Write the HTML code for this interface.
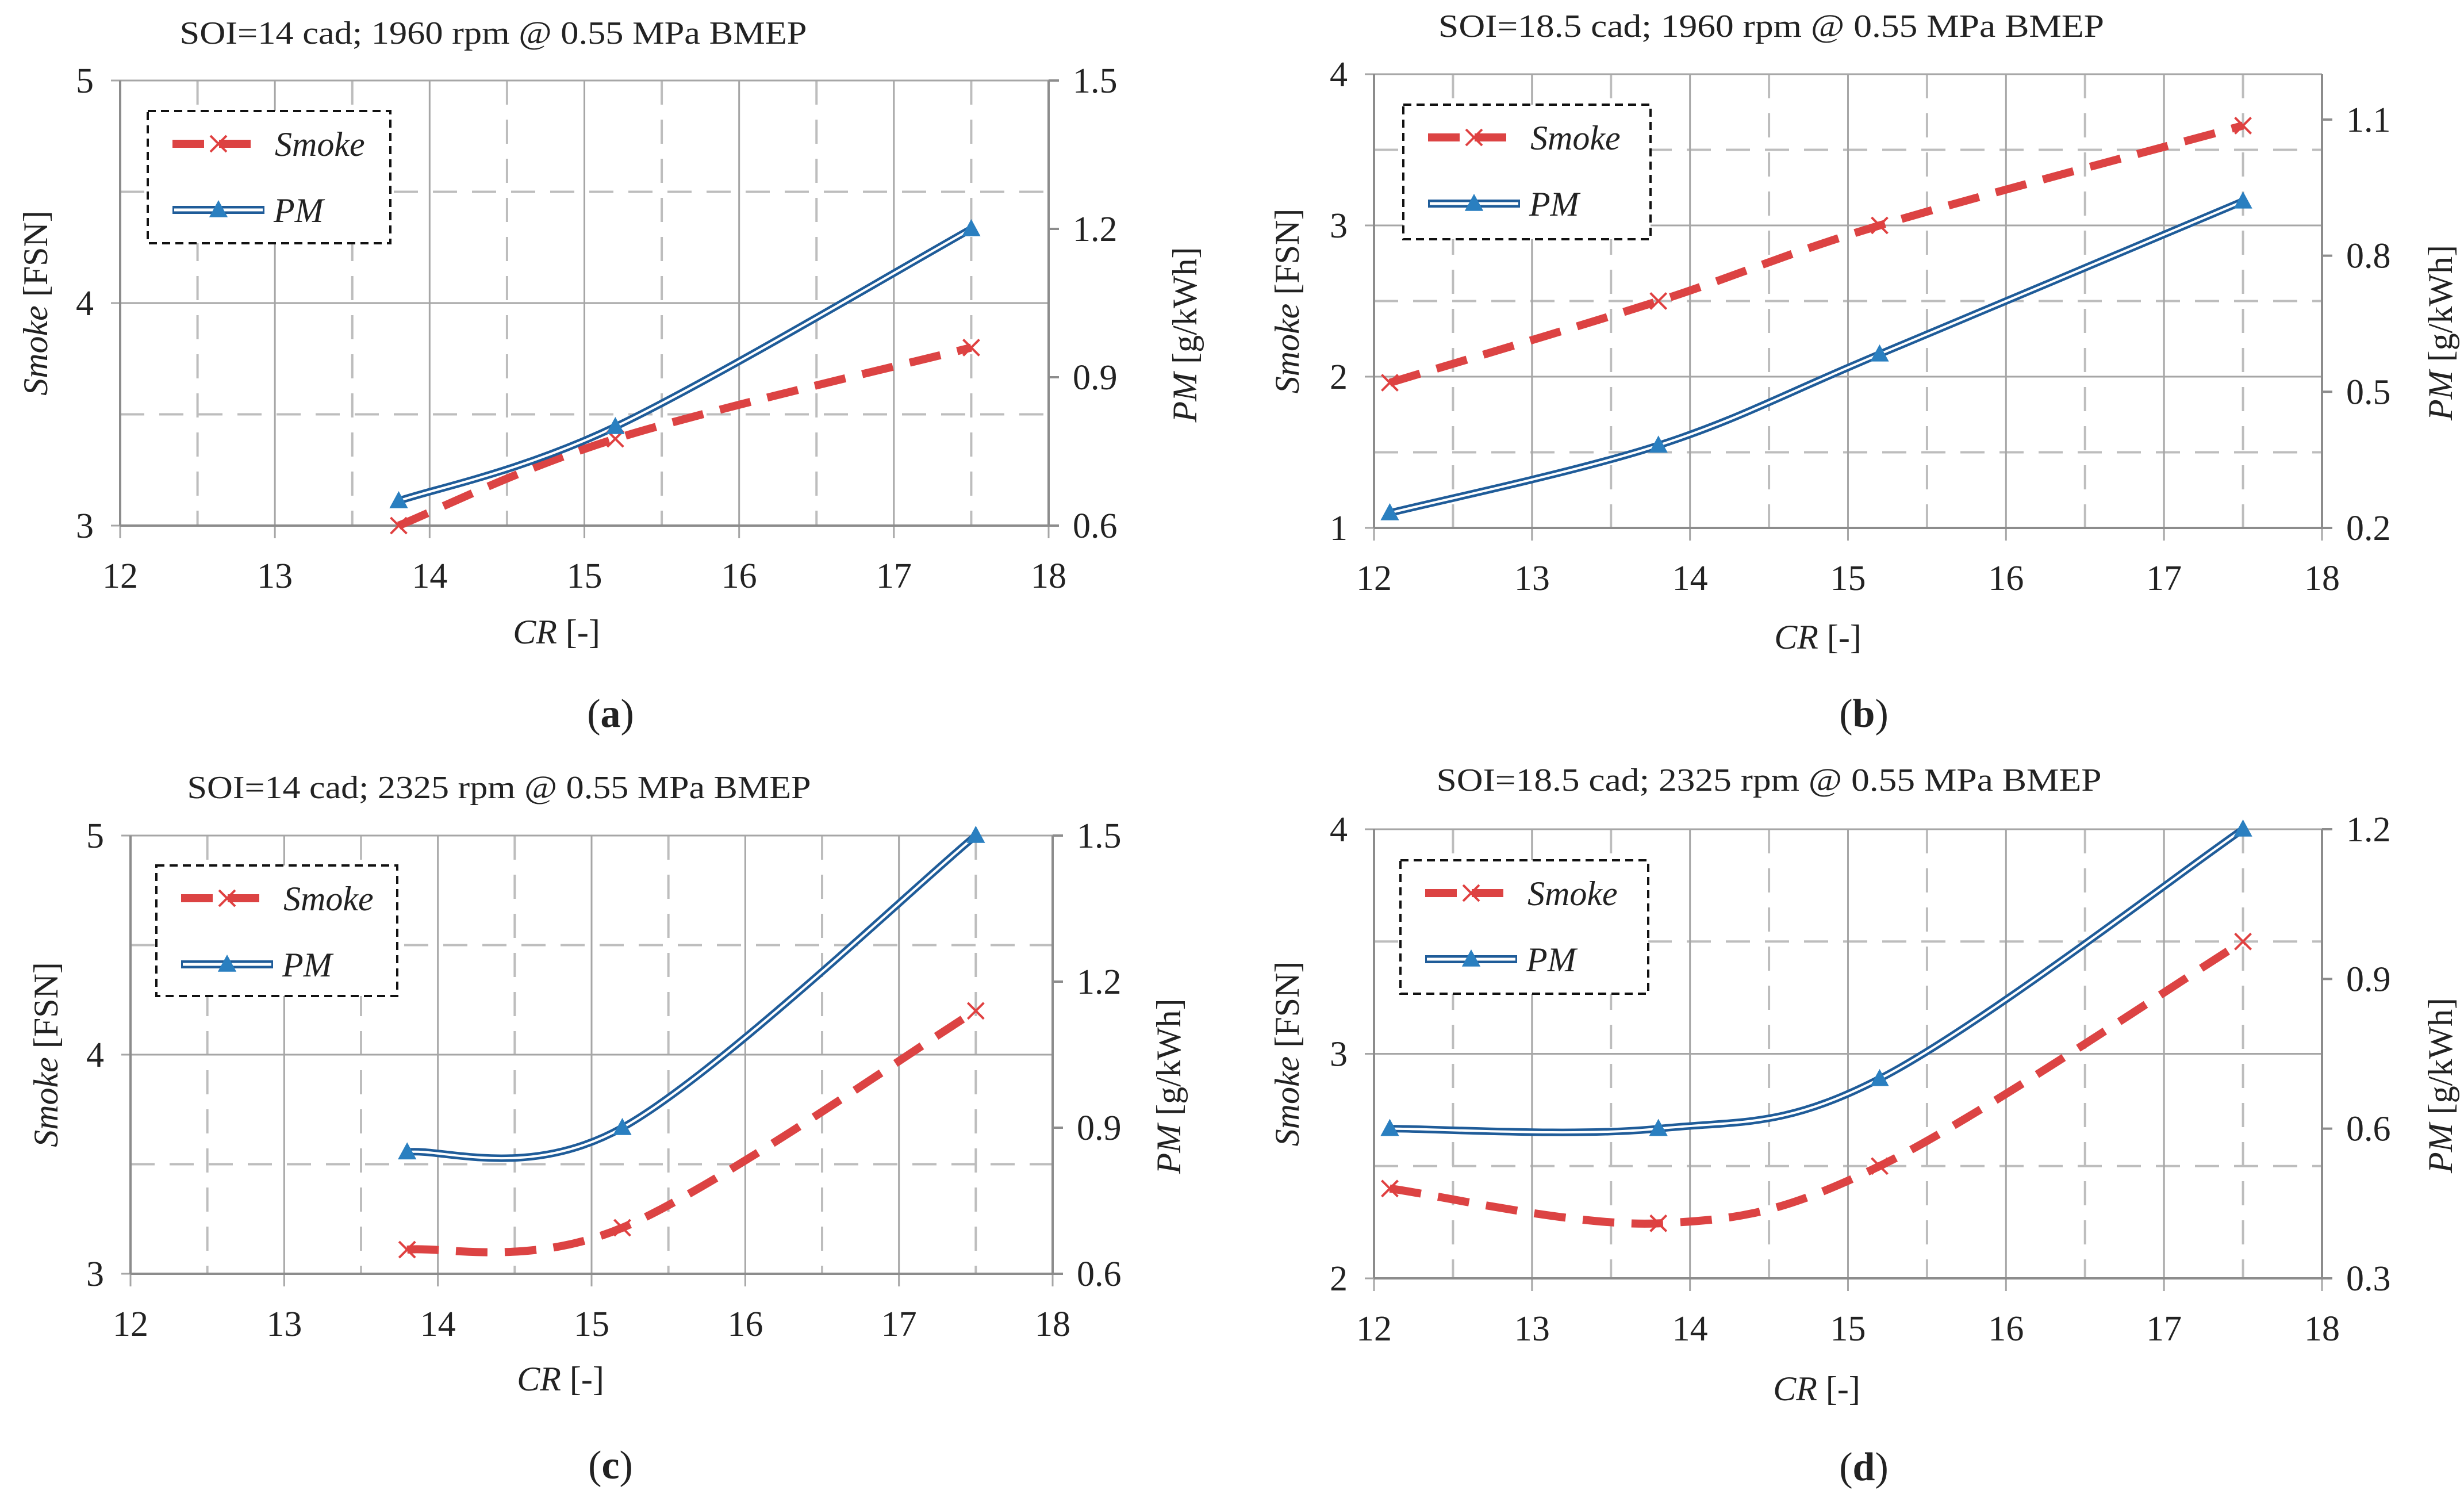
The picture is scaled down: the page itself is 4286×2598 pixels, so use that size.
<!DOCTYPE html>
<html><head><meta charset="utf-8"><style>
html,body{margin:0;padding:0;background:#fff}
svg{display:block}
text{font-family:"Liberation Serif",serif;fill:#222}
</style></head><body>
<svg id="fig" width="4286" height="2598" viewBox="0 0 4286 2598" xmlns="http://www.w3.org/2000/svg"></svg>
<script>
// ---- data ----
const crA=[13.8,15.2,17.5];
const smokeA=[3.0,3.39,3.8];
const pmA=[0.65,0.80,1.20];
const crB=[12.1,13.8,15.2,17.5];
const smokeB=[1.96,2.5,3.0,3.66];
const pmB=[0.233,0.382,0.583,0.92];
const crC=[13.8,15.2,17.5];
const smokeC=[3.11,3.21,4.2];
const pmC=[0.85,0.90,1.5];
const crD=[12.1,13.8,15.2,17.5];
const smokeD=[2.4,2.245,2.5,3.5];
const pmD=[0.6,0.6,0.70,1.2];
const xTicks=[12,13,14,15,16,17,18];
const titles=["SOI=14 cad; 1960 rpm @ 0.55 MPa BMEP","SOI=18.5 cad; 1960 rpm @ 0.55 MPa BMEP","SOI=14 cad; 2325 rpm @ 0.55 MPa BMEP","SOI=18.5 cad; 2325 rpm @ 0.55 MPa BMEP"];
const leftTicksA=[3,4,5], rightTicksA=[0.6,0.9,1.2,1.5];
const leftTicksB=[1,2,3,4], rightTicksB=[0.2,0.5,0.8,1.1];
const leftTicksC=[3,4,5], rightTicksC=[0.6,0.9,1.2,1.5];
const leftTicksD=[2,3,4], rightTicksD=[0.3,0.6,0.9,1.2];

const NS="http://www.w3.org/2000/svg";
const svg=document.getElementById('fig');
function el(tag,attrs,parent,txt){const e=document.createElementNS(NS,tag);for(const k in attrs)e.setAttribute(k,attrs[k]);if(txt!==undefined)e.textContent=txt;(parent||svg).appendChild(e);return e;}

const panels=[
 {id:'a',L:209,R:1824,T:140,B:914,tx:858,ty:58,tw:1091,lg:[257,193,679,423],yl:[3,5],yr:[0.6,1.5],lt:leftTicksA,rt:rightTicksA,cr:crA,sm:smokeA,pm:pmA,cap:[1062,1241],xl:[968,1099],yt:[62,2061]},
 {id:'b',L:2390,R:4039,T:129,B:918,tx:3081,ty:46,tw:1158,lg:[2441,182,2871,416],yl:[1,4],yr:[0.2,1.2],lt:leftTicksB,rt:rightTicksB,cr:crB,sm:smokeB,pm:pmB,cap:[3242,1241],xl:[3162,1108],yt:[2239,4245]},
 {id:'c',L:227,R:1831,T:1453,B:2215,tx:868,ty:1370,tw:1085,lg:[272,1505,691,1732],yl:[3,5],yr:[0.6,1.5],lt:leftTicksC,rt:rightTicksC,cr:crC,sm:smokeC,pm:pmC,cap:[1062,2548],xl:[975,2398],yt:[80,2033]},
 {id:'d',L:2390,R:4039,T:1442,B:2223,tx:3077,ty:1357,tw:1157,lg:[2436,1496,2867,1728],yl:[2,4],yr:[0.3,1.2],lt:leftTicksD,rt:rightTicksD,cr:crD,sm:smokeD,pm:pmD,cap:[3242,2551],xl:[3160,2415],yt:[2239,4245]}
];

function smoothPath(pts){
  let d=`M${pts[0][0]},${pts[0][1]}`;
  for(let i=0;i<pts.length-1;i++){
    const p0=pts[Math.max(i-1,0)],p1=pts[i],p2=pts[i+1],p3=pts[Math.min(i+2,pts.length-1)];
    const c1=[p1[0]+(p2[0]-p0[0])/6,p1[1]+(p2[1]-p0[1])/6];
    const c2=[p2[0]-(p3[0]-p1[0])/6,p2[1]-(p3[1]-p1[1])/6];
    d+=` C${c1[0]},${c1[1]} ${c2[0]},${c2[1]} ${p2[0]},${p2[1]}`;
  }
  return d;
}
function tri(g,x,y,s){el('polygon',{points:`${x},${y-s} ${x-s*0.95},${y+s*0.75} ${x+s*0.95},${y+s*0.75}`,fill:'#2a7fc0'},g);}
function cross(g,x,y,s){el('path',{d:`M${x-s},${y-s}L${x+s},${y+s}M${x-s},${y+s}L${x+s},${y-s}`,stroke:'#e04040','stroke-width':4,fill:'none'},g);}

panels.forEach(p=>{
  const g=el('g',{});
  
  
  const X=v=>p.L+(v-12)/6*(p.R-p.L);
  const Y=v=>p.B-(v-p.yl[0])/(p.yl[1]-p.yl[0])*(p.B-p.T);
  const Yr=v=>p.B-(v-p.yr[0])/(p.yr[1]-p.yr[0])*(p.B-p.T);
  const t=el('text',{x:p.tx,y:p.ty+18,'text-anchor':'middle','font-size':56,textLength:p.tw,lengthAdjust:'spacingAndGlyphs'},g,titles['abcd'.indexOf(p.id)]);
  
  
  const grid=el('g',{},g);
  
  
  for(let v=12.5;v<18;v+=1) el('line',{x1:X(v),x2:X(v),y1:p.T,y2:p.B,stroke:'#bdbdbd','stroke-width':4,'stroke-dasharray':'42 26'},grid);
  for(let v=p.yl[0]+0.5;v<p.yl[1];v+=1) el('line',{x1:p.L,x2:p.R,y1:Y(v),y2:Y(v),stroke:'#bdbdbd','stroke-width':4,'stroke-dasharray':'42 26'},grid);
  xTicks.forEach(v=>el('line',{x1:X(v),x2:X(v),y1:p.T,y2:p.B+22,stroke:'#a6a6a6','stroke-width':3},grid));
  p.lt.forEach(v=>el('line',{x1:p.L-16,x2:p.R,y1:Y(v),y2:Y(v),stroke:'#a6a6a6','stroke-width':3},grid));
  el('line',{x1:p.L,x2:p.L,y1:p.T,y2:p.B,stroke:'#8c8c8c','stroke-width':4},g);
  el('line',{x1:p.R,x2:p.R,y1:p.T,y2:p.B,stroke:'#8c8c8c','stroke-width':4},g);
  el('line',{x1:p.L,x2:p.R,y1:p.B,y2:p.B,stroke:'#8c8c8c','stroke-width':4},g);
  p.rt.forEach(v=>el('line',{x1:p.R,x2:p.R+18,y1:Yr(v),y2:Yr(v),stroke:'#8c8c8c','stroke-width':4},g));
  xTicks.forEach(v=>{const e=el('text',{x:X(v),y:p.B+108,'text-anchor':'middle','font-size':62},g,String(v));
    });
  p.lt.forEach(v=>{const e=el('text',{x:p.L-46,y:Y(v)+21,'text-anchor':'end','font-size':62},g,String(v));
    });
  p.rt.forEach(v=>{const e=el('text',{x:p.R+42,y:Yr(v)+21,'text-anchor':'start','font-size':62},g,v.toFixed(1));
    });
  const xl=el('text',{x:p.xl[0],y:p.xl[1]+20,'text-anchor':'middle','font-size':60},g);
  
  el('tspan',{'font-style':'italic'},xl,'CR');el('tspan',{},xl,' [-]');
  const cy=(p.T+p.B)/2;
  const yl=el('text',{x:0,y:0,'text-anchor':'middle','font-size':60,transform:`translate(${p.yt[0]+20},${cy}) rotate(-90)`},g);
  
  el('tspan',{'font-style':'italic'},yl,'Smoke');el('tspan',{},yl,' [FSN]');
  const yr=el('text',{x:0,y:0,'text-anchor':'middle','font-size':60,transform:`translate(${p.yt[1]+20},${cy+55}) rotate(-90)`},g);
  
  el('tspan',{'font-style':'italic'},yr,'PM');el('tspan',{},yr,' [g/kWh]');
  const lg=el('g',{},g);
  
  
  const [a,b,c,d]=p.lg;
  el('rect',{x:a,y:b,width:c-a,height:d-b,fill:'#fff',stroke:'#111','stroke-width':4,'stroke-dasharray':'14 9'},lg);
  const sy=b+57,py=b+172;
  el('line',{x1:a+43,x2:a+203,y1:sy,y2:sy,stroke:'#dc4343','stroke-width':14,'stroke-dasharray':'55 26'},lg);
  cross(lg,a+123,sy,14);
  const ts=el('text',{x:a+221,y:sy+21,'font-size':60,'font-style':'italic'},lg,'Smoke');
  
  el('line',{x1:a+43,x2:a+203,y1:py,y2:py,stroke:'#1f5c99','stroke-width':14},lg);
  el('line',{x1:a+46,x2:a+200,y1:py,y2:py,stroke:'#fff','stroke-width':5},lg);
  tri(lg,a+123,py,17);
  const tp=el('text',{x:a+219,y:py+21,'font-size':60,'font-style':'italic'},lg,'PM');
  
  const sPts=p.cr.map((v,i)=>[X(v),Y(p.sm[i])]);
  const pPts=p.cr.map((v,i)=>[X(v),Yr(p.pm[i])]);
  const sl=el('path',{d:smoothPath(sPts),fill:'none',stroke:'#dc4343','stroke-width':14,'stroke-dasharray':'55 30'},g);
  
  const pl=el('path',{d:smoothPath(pPts),fill:'none',stroke:'#1f5c99','stroke-width':13},g);
  
  el('path',{d:smoothPath(pPts),fill:'none',stroke:'#fff','stroke-width':4},g);
  sPts.forEach(q=>cross(g,q[0],q[1],14));
  pPts.forEach(q=>tri(g,q[0],q[1],17));
  const cap=el('text',{x:p.cap[0],y:p.cap[1]+23,'text-anchor':'middle','font-size':70},g);
  
  el('tspan',{},cap,'(');el('tspan',{'font-weight':'bold'},cap,p.id);el('tspan',{},cap,')');
});
</script>
</body></html>
